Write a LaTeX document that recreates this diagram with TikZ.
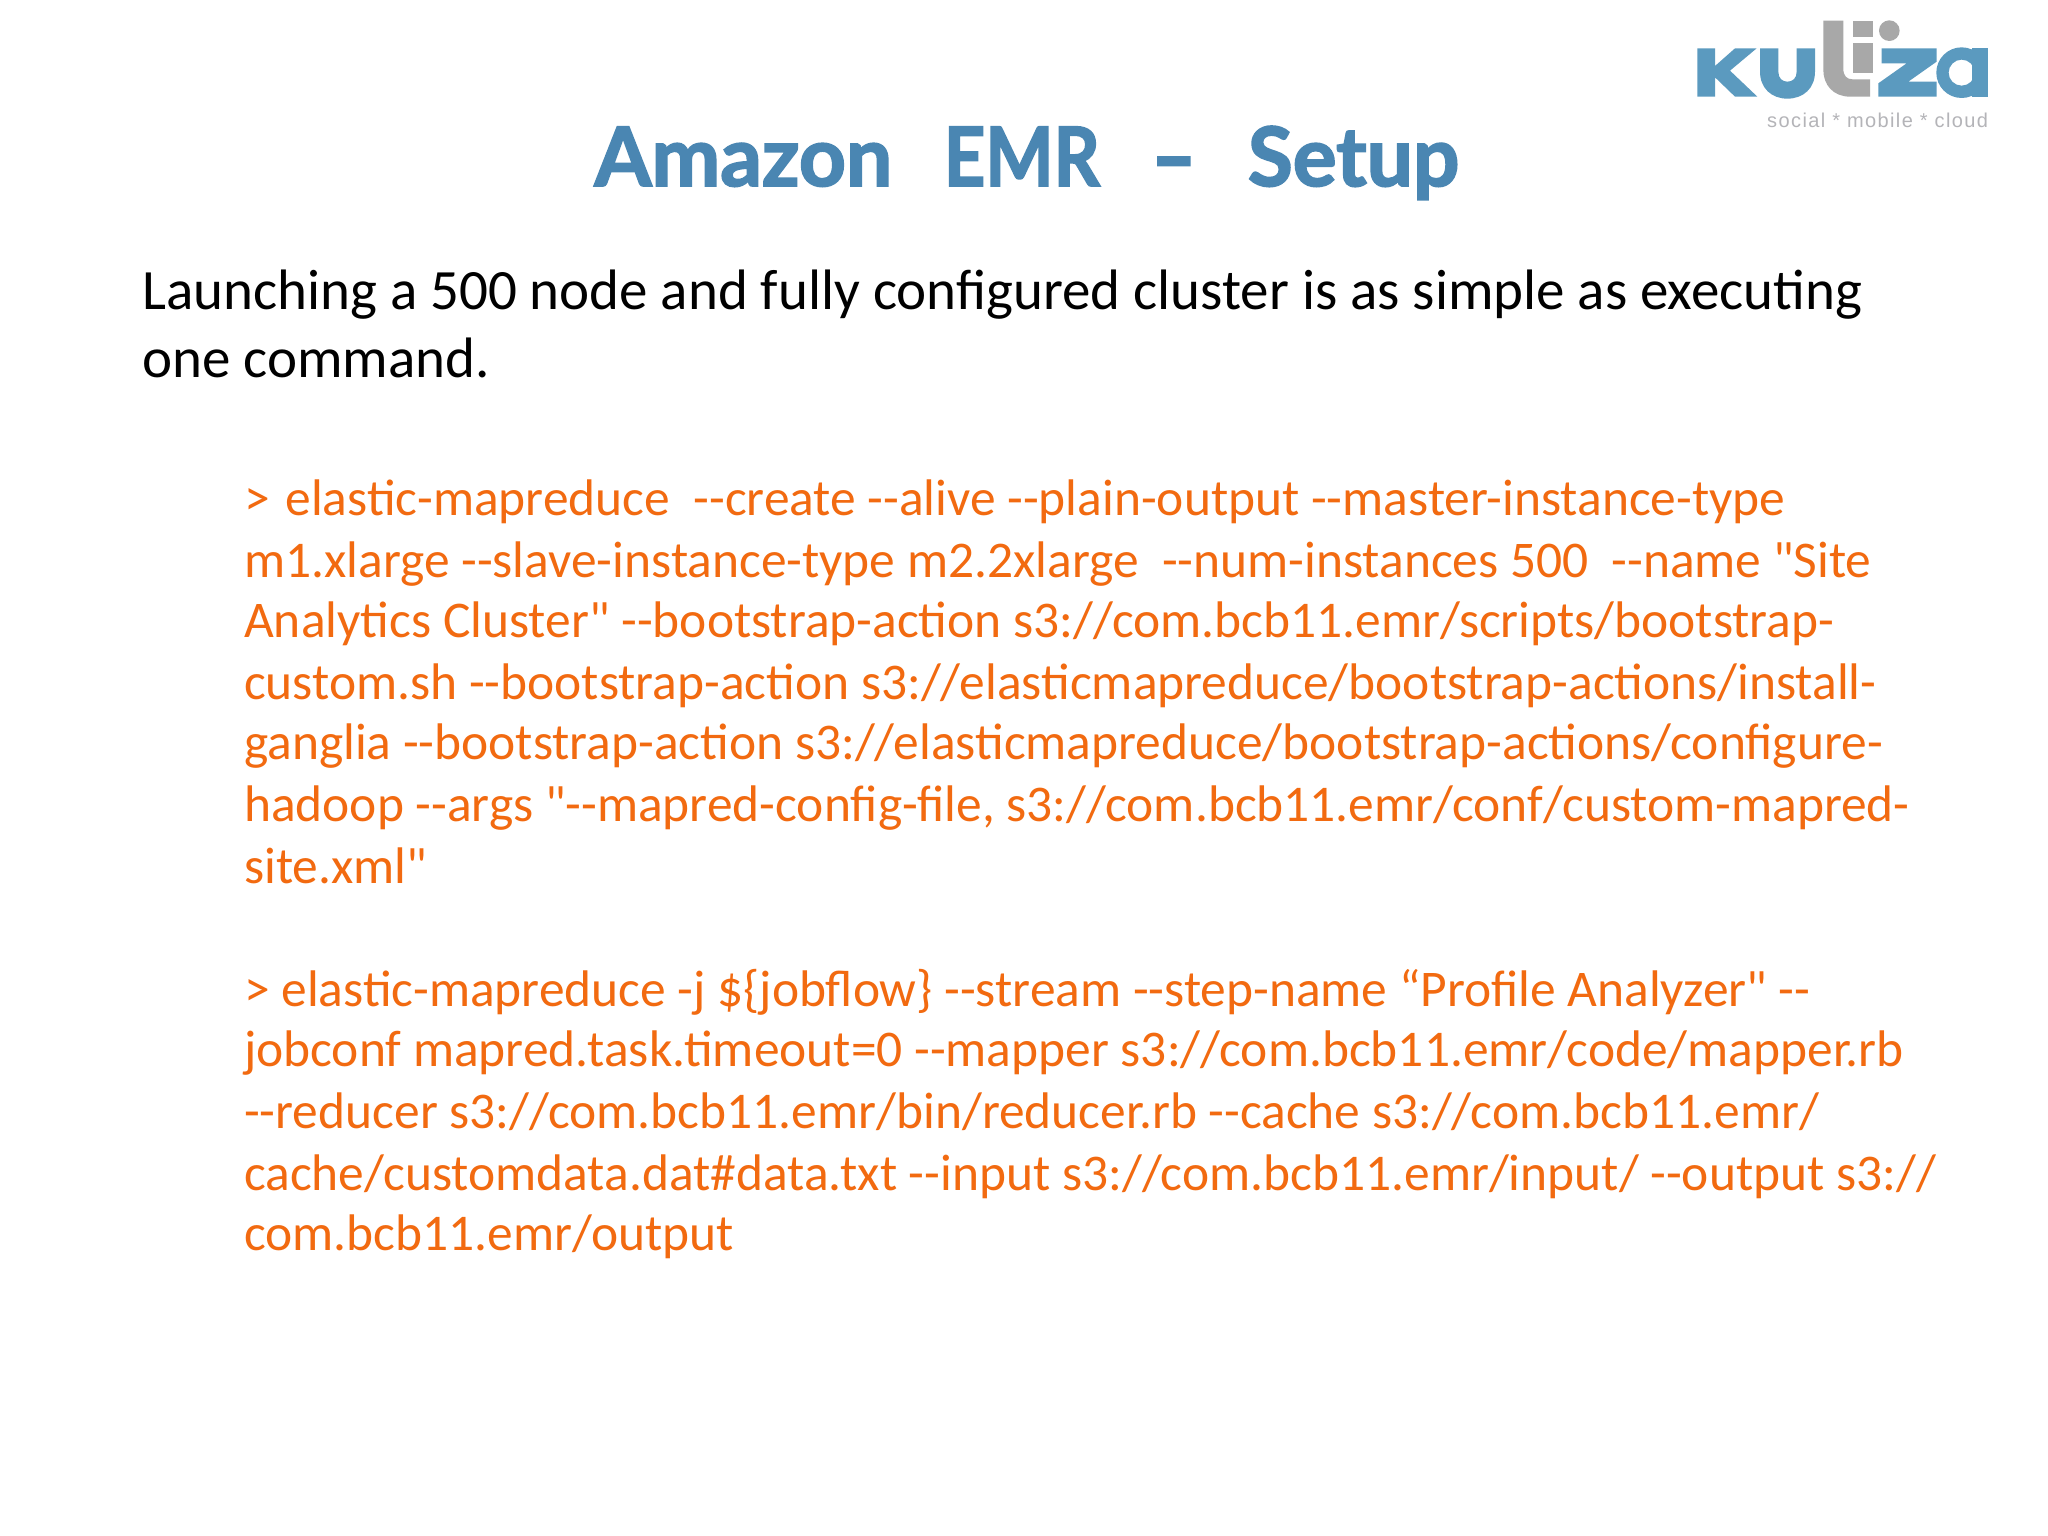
\documentclass[tikz,border=0pt]{standalone}
\usepackage{fontspec}
\setmainfont[Ligatures=TeXOff]{Carlito}
\newfontfamily\titlefont[WordSpace=2.6,BoldFeatures={FakeBold=2.2}]{Lato}
\newfontfamily\tagfont[LetterSpace=7]{Liberation Sans}
\definecolor{kublue}{HTML}{5B9ABF}
\definecolor{kugrey}{HTML}{A8A8A8}
\definecolor{tagrey}{HTML}{B4B4B8}
\definecolor{titleblue}{HTML}{4A86B2}
\definecolor{cmdorange}{HTML}{F26A10}
\tikzset{
  bodyline/.style={anchor=base west,inner sep=0pt,text=black,font=\fontsize{57}{60}\selectfont},
  cmdline/.style={anchor=base west,inner sep=0pt,text=cmdorange,font=\fontsize{51.45}{60}\selectfont},
  titletext/.style={anchor=base,inner sep=0pt,text=titleblue,font=\titlefont\bfseries\fontsize{82}{90}\selectfont},
  tagtext/.style={anchor=base west,inner sep=0pt,text=tagrey,font=\tagfont\fontsize{20}{24}\selectfont}
}
\begin{document}
\begin{tikzpicture}[x=1pt,y=-1pt]
\useasboundingbox (0,0) rectangle (2048,1536);
\fill[white] (0,0) rectangle (2048,1536);
\begin{scope}[shift={(1660,0)},x=0.3333pt,y=-0.3333pt]
\fill[kublue] (112,145)--(165,145)--(165,198)--(225,145)--(290,145)--(210,212)--(292,290)--(225,290)--(165,232)--(165,290)--(112,290)--cycle;
\fill[kublue] (300,145)--(355,145)--(355,215) .. controls (355,235) and (367,245) .. (382,245) .. controls (398,245) and (410,235) .. (410,215)--(410,145)--(465,145)--(465,215) .. controls (465,265) and (430,296) .. (382,296) .. controls (335,296) and (300,265) .. (300,215)--cycle;
\fill[kugrey] (490,62)--(550,62)--(550,205) .. controls (550,228) and (560,238) .. (578,238)--(630,238)--(630,290)--(570,290) .. controls (520,290) and (490,255) .. (490,210)--cycle;
\fill[kugrey] (580,62) rectangle (638,110);
\fill[kugrey] (580,128) rectangle (638,218);
\fill[kugrey] (688,92) circle (31);
\fill[kublue] (665,145)--(830,145)--(830,185)--(745,245)--(830,245)--(830,290)--(655,290)--(655,250)--(740,190)--(665,190)--cycle;
\fill[kublue,even odd rule] (905,218) circle (76) (905,218) circle (39);
\fill[kublue] (935,145) rectangle (985,290);
\end{scope}
\node[tagtext] (tag) at (1767,128) {social * mobile * cloud};
\node[titletext] (title) at (1027,186) {Amazon \scalebox{0.88}[1]{EMR} \scalebox{1.45}[1]{-} Setup};
\node[bodyline] (b1) at (142,309) {Launching a 500 node and fully configured cluster is as simple as executing};
\node[bodyline] (b2) at (142,377) {one command.};
\node[cmdline] (c1) at (244,515) {>\kern4pt\ elastic-mapreduce \ --create --alive --plain-output --master-instance-type};
\node[cmdline] (c2) at (244,577) {m1.xlarge --slave-instance-type m2.2xlarge \ --num-instances 500 \ --name "Site};
\node[cmdline] (c3) at (244,637) {Analytics Cluster" --bootstrap-action s3://com.bcb11.emr/scripts/bootstrap-};
\node[cmdline] (c4) at (244,699) {custom.sh --bootstrap-action s3://elasticmapreduce/bootstrap-actions/install-};
\node[cmdline] (c5) at (244,759) {ganglia --bootstrap-action s3://elasticmapreduce/bootstrap-actions/configure-};
\node[cmdline] (c6) at (244,821) {hadoop --args "--mapred-config-file, s3://com.bcb11.emr/conf/custom-mapred-};
\node[cmdline] (c7) at (244,883) {site.xml"};
\node[cmdline] (d1) at (244,1006) {> elastic-mapreduce -j \$\{jobflow\} --stream --step-name “Profile Analyzer" --};
\node[cmdline] (d2) at (244,1066) {jobconf mapred.task.timeout=0 --mapper s3://com.bcb11.emr/code/mapper.rb};
\node[cmdline] (d3) at (244,1128) {--reducer s3://com.bcb11.emr/bin/reducer.rb --cache s3://com.bcb11.emr/};
\node[cmdline] (d4) at (244,1190) {cache/customdata.dat\#data.txt --input s3://com.bcb11.emr/input/ --output s3://};
\node[cmdline] (d5) at (244,1250) {com.bcb11.emr/output};
\end{tikzpicture}
\end{document}
